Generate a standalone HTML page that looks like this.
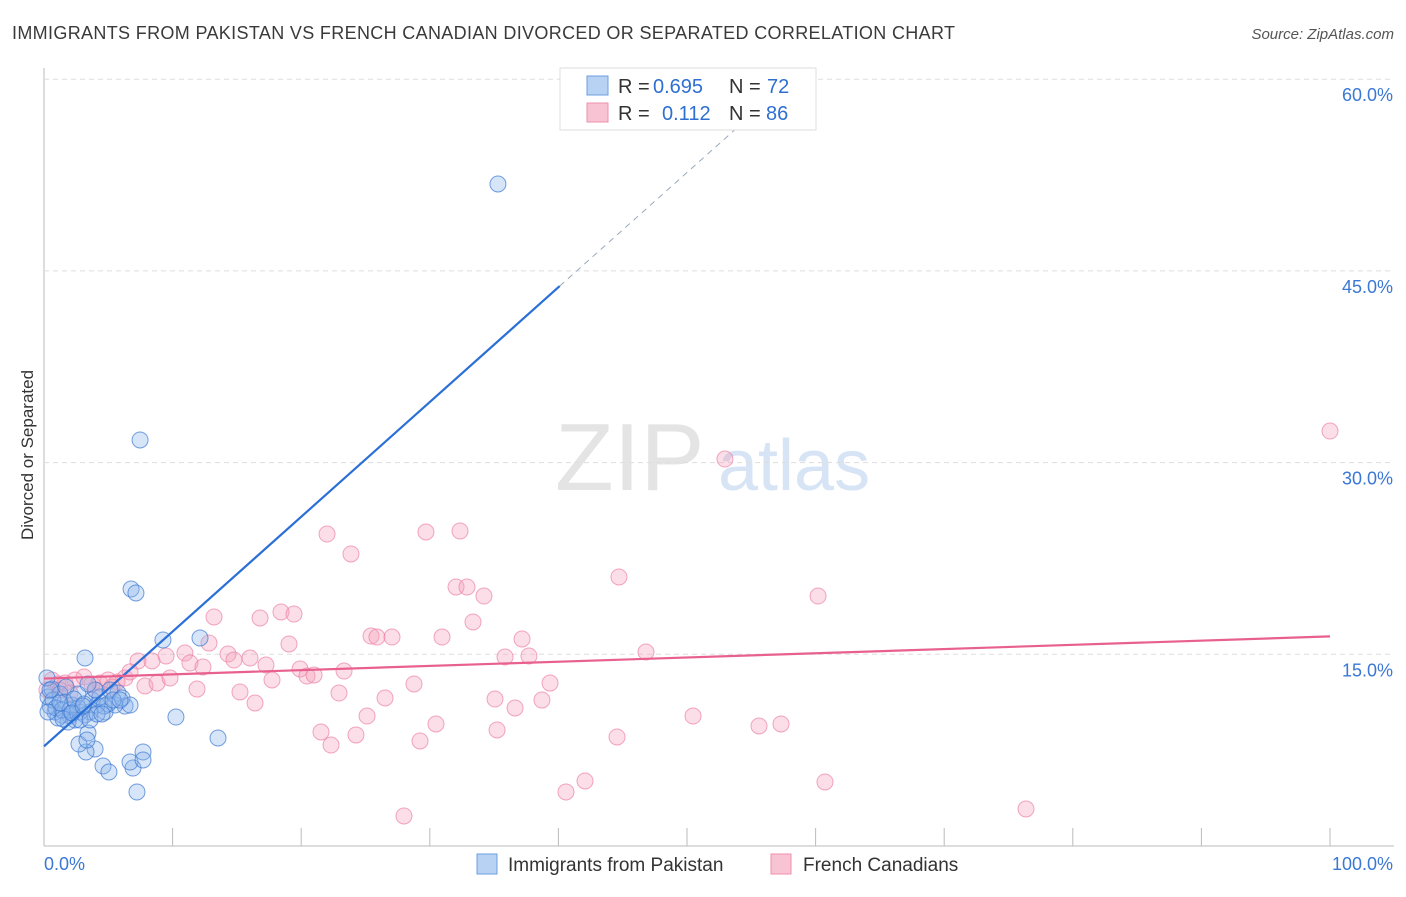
<!DOCTYPE html>
<html><head><meta charset="utf-8"><style>
body{margin:0;background:#fff;font-family:"Liberation Sans",sans-serif;}
svg text{font-family:"Liberation Sans",sans-serif;}
</style></head><body>
<svg id="c" width="1406" height="892" xmlns="http://www.w3.org/2000/svg">
<text x="12" y="39" font-size="18" fill="#3a3a3a" textLength="943">IMMIGRANTS FROM PAKISTAN VS FRENCH CANADIAN DIVORCED OR SEPARATED CORRELATION CHART</text>
<text x="1394" y="39" font-size="15" fill="#555" font-style="italic" text-anchor="end">Source: ZipAtlas.com</text>
<text x="33" y="455" font-size="17" fill="#333" text-anchor="middle" transform="rotate(-90 33 455)">Divorced or Separated</text>
<text x="555" y="490" font-size="96" fill="#e4e4e4" font-family="Liberation Serif">ZIP</text>
<text x="718" y="490" font-size="72" fill="#d6e4f5">atlas</text>
<g id="grid"></g><g id="pts"></g><g id="lines"></g>
<g>
<rect x="560" y="68" width="256" height="62" fill="#fff" stroke="#ddd"/>
<rect x="587" y="76" width="21" height="19" fill="#b8d2f4" stroke="#6d9ee0"/>
<rect x="587" y="103" width="21" height="19" fill="#f8c4d3" stroke="#ee90ad"/>
<text x="618" y="93" font-size="20" fill="#333">R =</text>
<text x="653" y="93" font-size="20" fill="#2e6fd1">0.695</text>
<text x="729" y="93" font-size="20" fill="#333">N =</text>
<text x="767" y="93" font-size="20" fill="#2e6fd1">72</text>
<text x="618" y="120" font-size="20" fill="#333">R =</text>
<text x="662" y="120" font-size="20" fill="#2e6fd1">0.112</text>
<text x="729" y="120" font-size="20" fill="#333">N =</text>
<text x="766" y="120" font-size="20" fill="#2e6fd1">86</text>
</g>
<g>
<rect x="477" y="854" width="20" height="20" fill="#b8d2f4" stroke="#6d9ee0"/>
<text x="508" y="871" font-size="19" fill="#333">Immigrants from Pakistan</text>
<rect x="771" y="854" width="20" height="20" fill="#f8c4d3" stroke="#ee90ad"/>
<text x="803" y="871" font-size="19" fill="#333">French Canadians</text>
</g>
</svg>
<script>
const yTicks=[15,30,45,60];
const xTickLabels=["0.0%","100.0%"];
const bluePx=[[498,184],[140,440],[131,589],[136,593],[163,640],[200,638],[85,658],[176,717],[218,738],[103,766],[109,772],[133,768],[137,792],[143,752],[130,762],[143,760],[95,749],[86,752],[79,744],[88,733],[87,740],[125,706],[118,693],[115,705],[105,712],[108,704],[97,705],[92,700],[90,712],[80,712],[70,716],[62,715],[55,712],[50,706],[48,697],[52,689],[47,678],[60,694],[65,702],[72,705],[78,708],[85,715],[75,720],[68,722],[58,718],[100,697],[110,690],[122,698],[95,690],[88,684],[78,694],[66,687],[53,700],[56,708],[62,710],[70,710],[80,720],[104,706],[113,700],[130,705],[90,720],[74,699],[63,719],[84,704],[50,690],[60,703],[72,713],[97,714],[83,706],[102,714],[48,712],[120,700]];
const pinkPx=[[1330,431],[725,459],[460,531],[426,532],[327,534],[351,554],[619,577],[818,596],[456,587],[467,587],[484,596],[214,617],[260,618],[281,612],[294,614],[473,622],[371,636],[377,637],[392,637],[442,637],[522,639],[289,644],[209,643],[185,653],[138,661],[152,661],[166,656],[190,663],[203,667],[228,654],[234,660],[250,658],[266,665],[300,669],[307,676],[314,675],[344,671],[529,656],[505,657],[646,652],[272,680],[414,684],[550,683],[145,686],[157,683],[170,678],[197,689],[240,692],[255,703],[339,693],[385,698],[495,699],[542,700],[515,708],[367,716],[436,724],[693,716],[759,726],[781,724],[321,732],[356,735],[331,745],[497,730],[420,741],[617,737],[585,781],[566,792],[825,782],[404,816],[1026,809],[52,680],[58,684],[65,683],[75,680],[84,677],[92,684],[100,683],[108,680],[117,682],[125,678],[130,672],[60,690],[70,693],[47,690],[96,690],[112,687]];
// convert estimated pixel reads into data values (x %, y %)
const blueX=bluePx.map(p=>+((p[0]-44)/12.86).toFixed(2)), blueY=bluePx.map(p=>+((846-p[1])/12.78).toFixed(2));
const pinkX=pinkPx.map(p=>+((p[0]-44)/12.86).toFixed(2)), pinkY=pinkPx.map(p=>+((846-p[1])/12.78).toFixed(2));
const blueLine=[7.8,0.898]; // intercept, slope (y% per x%)
const pinkLine=[13.1,0.033];
const X=v=>44+v*12.86, Y=v=>846-v*12.78;
const NS="http://www.w3.org/2000/svg";
function mk(t,a,p){const e=document.createElementNS(NS,t);for(const k in a)e.setAttribute(k,a[k]);p.appendChild(e);return e;}
const g=document.getElementById('grid');
let ax=mk('line',{x1:44,y1:68,x2:44,y2:846,stroke:'#bbb'},g);


let bx=mk('line',{x1:44,y1:846,x2:1394,y2:846,stroke:'#bbb'},g);


yTicks.forEach(v=>{
 let l=mk('line',{x1:44,y1:Y(v),x2:1394,y2:Y(v),stroke:'#ddd','stroke-dasharray':'5,4'},g);
 
 
 let t=mk('text',{x:1393,y:Y(v)+22,'font-size':18,fill:'#3a78d4','text-anchor':'end'},g);
 t.textContent=v.toFixed(1)+'%';
 
 
});
for(let i=0;i<=10;i++){let l=mk('line',{x1:X(i*10),y1:828,x2:X(i*10),y2:846,stroke:'#bbb'},g);
 
 }
let t0=mk('text',{x:44,y:870,'font-size':18,fill:'#3a78d4'},g);t0.textContent=xTickLabels[0];


let t1=mk('text',{x:1393,y:870,'font-size':18,fill:'#3a78d4','text-anchor':'end'},g);t1.textContent=xTickLabels[1];


const pg=document.getElementById('pts');
pinkX.forEach((x,i)=>{let c=mk('circle',{cx:X(x),cy:Y(pinkY[i]),r:8,fill:'rgba(244,160,186,0.35)',stroke:'rgba(236,130,165,0.7)'},pg);
 
 });
blueX.forEach((x,i)=>{let c=mk('circle',{cx:X(x),cy:Y(blueY[i]),r:8,fill:'rgba(140,180,235,0.35)',stroke:'rgba(60,120,210,0.7)'},pg);
 
 });
const lg=document.getElementById('lines');
let b1=mk('line',{x1:X(0),y1:Y(blueLine[0]),x2:X(40.1),y2:Y(blueLine[0]+blueLine[1]*40.1),stroke:'#2a6fd6','stroke-width':2.2},lg);


let b2=mk('line',{x1:X(40.1),y1:Y(blueLine[0]+blueLine[1]*40.1),x2:X(55.7),y2:Y(blueLine[0]+blueLine[1]*55.7),stroke:'#9ab',"stroke-dasharray":'6,5','stroke-width':1},lg);


let p1=mk('line',{x1:X(0),y1:Y(pinkLine[0]),x2:X(100),y2:Y(pinkLine[0]+pinkLine[1]*100),stroke:'#e8608f','stroke-width':2.2},lg);


</script>
</body></html>
